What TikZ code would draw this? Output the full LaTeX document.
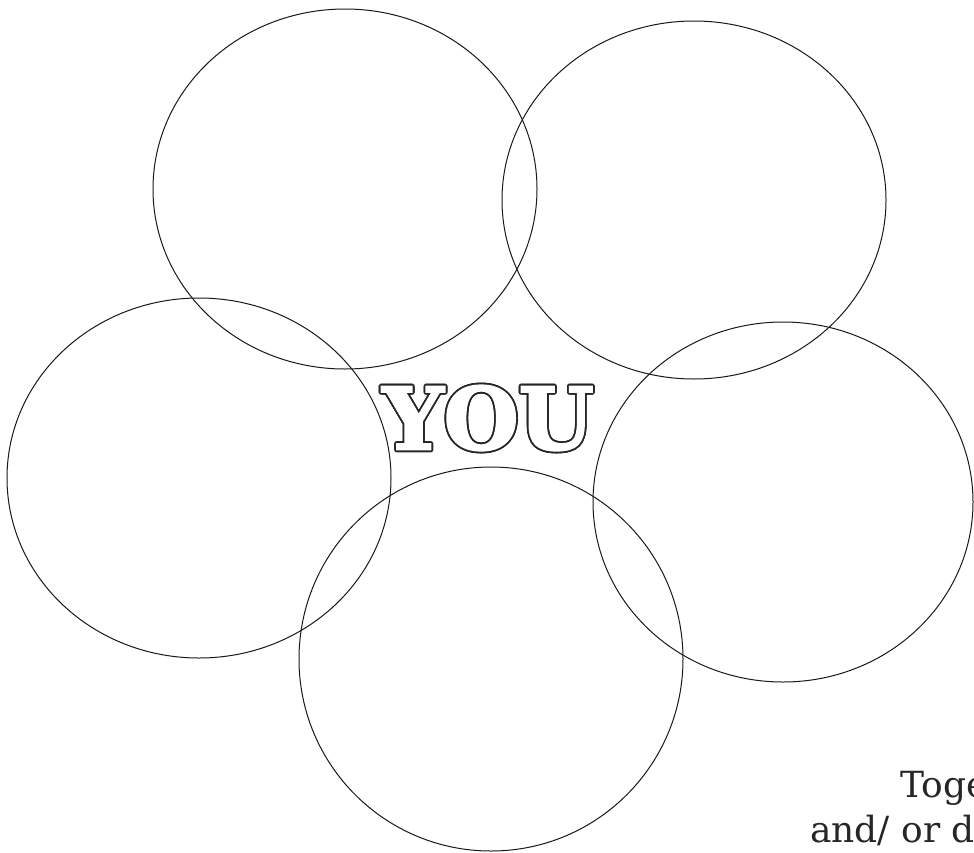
\documentclass[tikz,border=0pt]{standalone}
\usepackage{fontspec}
\setmainfont{DejaVu Serif}
\newfontfamily\youfont[FakeBold=2.5]{DejaVu Serif Bold}
\usetikzlibrary{shapes.geometric,calc}
\tikzset{
  ring/.style={draw=black!90, line width=1pt, ellipse, inner sep=0pt, fill=none},
  youtext/.style={inner sep=0pt, font=\fontsize{86}{86}\youfont},
  sidetext/.style={inner sep=0pt, anchor=base west, text=black!85, font=\fontsize{36}{36}\selectfont}
}
\begin{document}
\begin{tikzpicture}[x=1pt,y=-1pt]
\useasboundingbox (0,0) rectangle (974,852);
\clip (0,0) rectangle (974,852);
\fill[white] (0,0) rectangle (974,852);
\node[ring, minimum width=384pt, minimum height=360pt] (c1) at (345,189) {};
\node[ring, minimum width=384pt, minimum height=358pt] (c2) at (694,200) {};
\node[ring, minimum width=384pt, minimum height=360pt] (c3) at (199,478) {};
\node[ring, minimum width=380pt, minimum height=360pt] (c4) at (783,502) {};
\node[ring, minimum width=384pt, minimum height=384pt] (c5) at (491,659) {};
% outlined YOU
\coordinate (yc) at (488,418);
\foreach \a in {0,22.5,...,337.5}{
  \node[youtext, text=black!85] at ($(yc)+(\a:1.8pt)$) {YOU};
}
\node[youtext, text=white] (you) at (yc) {YOU};
\node[sidetext] (t1) at (900,797) {Toge};
\node[sidetext] (t2) at (810,842) {and/ or d};
\end{tikzpicture}
\end{document}
